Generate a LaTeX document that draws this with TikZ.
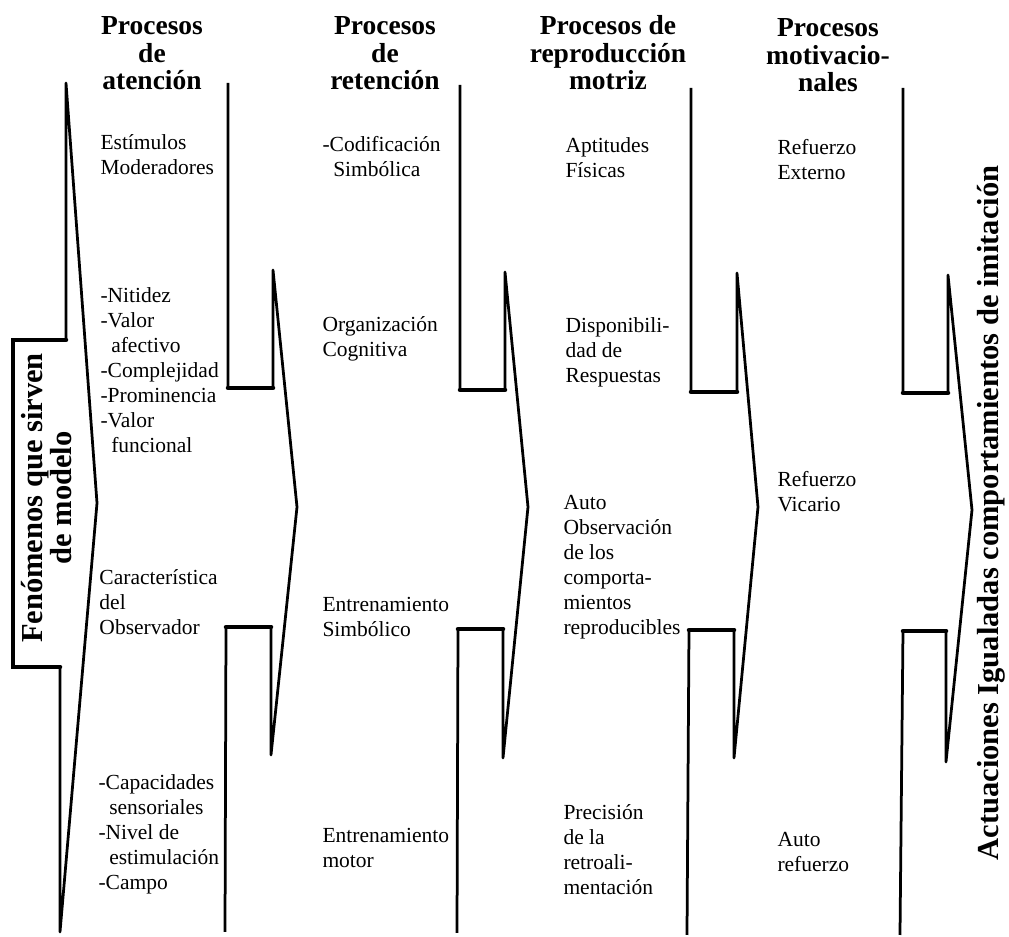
\documentclass[tikz,border=0pt]{standalone}
\usepackage{fontspec}
\setmainfont{Liberation Serif}
\begin{document}
\begin{tikzpicture}[
    x=0.4pt, y=-0.4pt,
    head/.style={font=\fontsize{11}{11}\selectfont\bfseries, align=center,
                 anchor=base, inner sep=0pt},
    item/.style={font=\fontsize{8.6}{10}\selectfont, align=left,
                 anchor=base west, inner sep=0pt},
    big/.style={font=\fontsize{12.2}{11.6}\selectfont\bfseries, align=center,
                rotate=90, inner sep=0pt},
    bracket/.style={draw, line width=1.1pt, line join=round},
    bar/.style={draw, line width=1.8pt, line cap=round},
  ]
    \useasboundingbox (0,0) rectangle (1009,937);

    % left arrow and the four separators
    \draw[bracket] (60,932) -- (60,667) -- (13,667) -- (13,340) -- (66,340)
      -- (66,83) -- (97,503) -- cycle;
    \draw[bracket] (228,83) -- (228,388) -- (273,388) -- (273,270) -- (297,507)
      -- (271,755) -- (271,627) -- (226,627) -- (225,932);
    \draw[bracket] (460,85) -- (460,390) -- (505,390) -- (505,272) -- (528,507)
      -- (503,758) -- (503,629) -- (458,629) -- (457,933);
    \draw[bracket] (691,88) -- (691,392) -- (737,392) -- (737,273) -- (758,507)
      -- (734,758) -- (734,630) -- (689,630) -- (687,935);
    \draw[bracket] (903,88) -- (903,393) -- (948,393) -- (948,275) -- (972,510)
      -- (946,762) -- (946,631) -- (903,631) -- (900,935);

    % heavier horizontal bars
    \draw[bar] (66,340) -- (13,340) -- (13,667) -- (60,667);
    \draw[bar] (228,388) -- (273,388);  \draw[bar] (226,627) -- (271,627);
    \draw[bar] (460,390) -- (505,390);  \draw[bar] (458,629) -- (503,629);
    \draw[bar] (691,392) -- (737,392);  \draw[bar] (689,630) -- (734,630);
    \draw[bar] (903,393) -- (948,393);  \draw[bar] (903,631) -- (946,631);

    \node[big] (modelo) at (47,498) {Fenómenos que sirven\\de modelo};
    \node[big] (imitacion) at (991,513)
      {Actuaciones Igualadas comportamientos de imitación};

    \node[head] (atencion)   at (152,90) {Procesos\\de\\atención};
    \node[head] (retencion)  at (385,90) {Procesos\\de\\retención};
    \node[head] (motriz)     at (608,90) {Procesos de\\reproducción\\motriz};
    \node[head] (motivacion) at (828,92) {Procesos\\motivacio-\\nales};

    \node[item] (estimulos) at (100,175) {Estímulos\\Moderadores};
    \node[item] (nitidez)   at (100,453)
      {-Nitidez\\-Valor\\\ \ afectivo\\-Complejidad\\-Prominencia\\-Valor\\\ \ funcional};
    \node[item] (observ)    at (99,635) {Característica\\del\\Observador};
    \node[item] (capac)     at (98,890)
      {-Capacidades\\\ \ sensoriales\\-Nivel de\\\ \ estimulación\\-Campo};

    \node[item] (codif)     at (322,177) {-Codificación\\\ \ Simbólica};
    \node[item] (organiz)   at (322,357) {Organización\\Cognitiva};
    \node[item] (entsimb)   at (322,637) {Entrenamiento\\Simbólico};
    \node[item] (entmotor)  at (322,868) {Entrenamiento\\motor};

    \node[item] (aptitud)   at (565,178) {Aptitudes\\Físicas};
    \node[item] (dispon)    at (565,383) {Disponibili-\\dad de\\Respuestas};
    \node[item] (autoobs)   at (563,635)
      {Auto\\Observación\\de los\\comporta-\\mientos\\reproducibles};
    \node[item] (precision) at (563,895)
      {Precisión\\de la\\retroali-\\mentación};

    \node[item] (externo)   at (777,180) {Refuerzo\\Externo};
    \node[item] (vicario)   at (777,512) {Refuerzo\\Vicario};
    \node[item] (autoref)   at (777,872) {Auto\\refuerzo};
  \end{tikzpicture}
\end{document}
